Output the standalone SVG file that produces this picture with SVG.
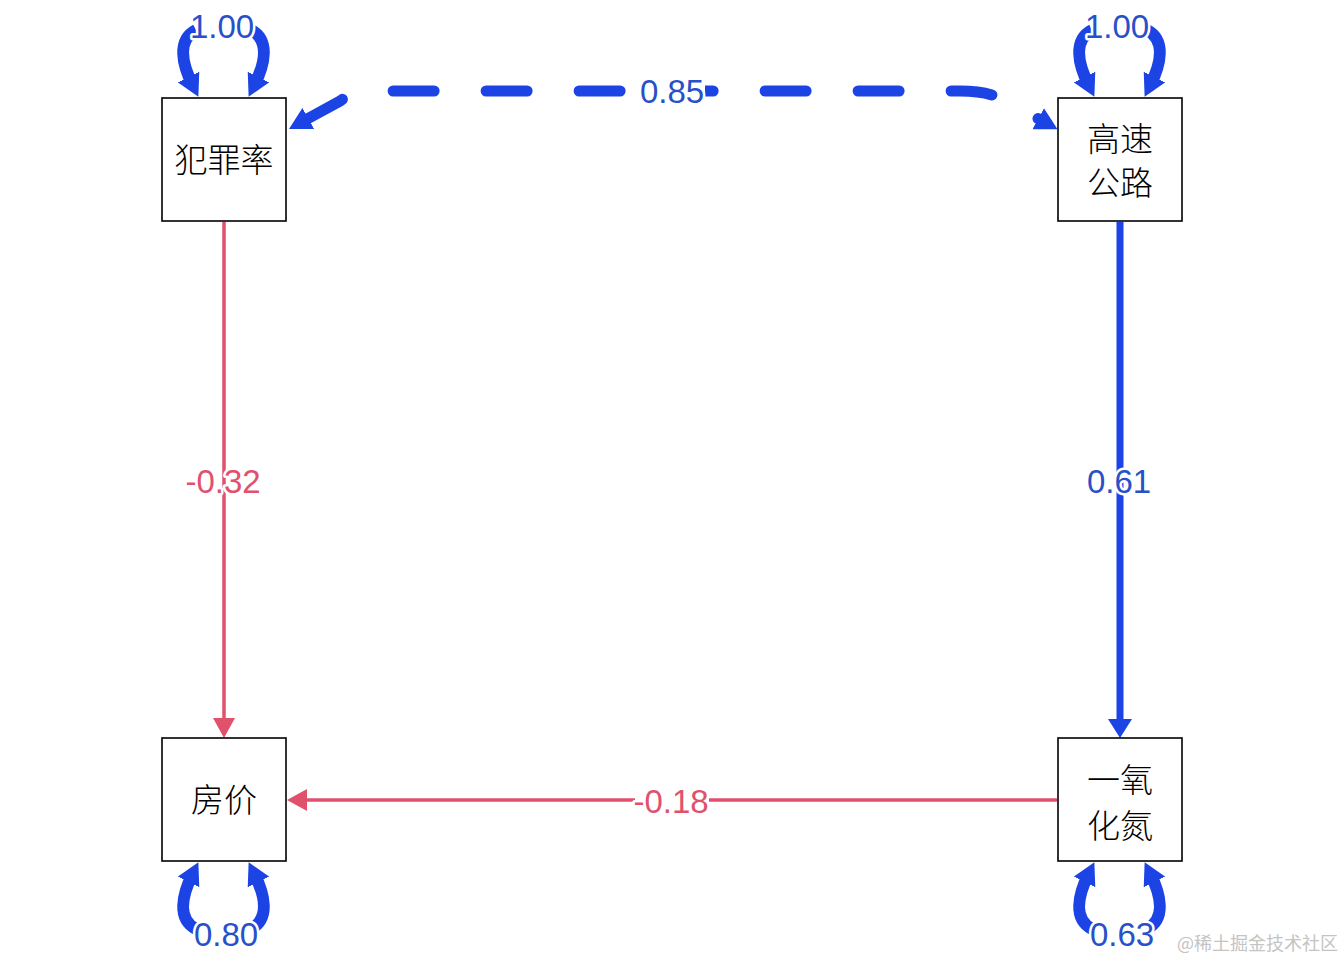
<svg xmlns="http://www.w3.org/2000/svg" width="1344" height="960" viewBox="0 0 1344 960">
<style>
.box{fill:#fff;stroke:#000;stroke-width:1.6}
.cn{font-family:"Noto Sans CJK SC","Noto Sans",sans-serif;font-size:33px;font-weight:300;fill:#000;text-anchor:middle}
.lbl{font-family:"Liberation Sans",Arial,sans-serif;font-size:33px;text-anchor:middle;paint-order:stroke;stroke:#fff;stroke-width:5;stroke-linejoin:round}
.lb{fill:#2850c8}
.lr{fill:#e0516c}
.bg{fill:#fff}
.loop{fill:none;stroke:#1c43e4;stroke-width:12;marker-end:url(#ahBig)}
.blue{fill:none;stroke:#1c43e4;stroke-width:7;marker-end:url(#ahBlue)}
.red{fill:none;stroke:#e0516c;stroke-width:3.5;marker-end:url(#ahRed)}
.dash{fill:none;stroke:#1c43e4;stroke-width:11;stroke-linecap:round;stroke-dasharray:41 52;stroke-dashoffset:84.8}
.wm{font-family:"Noto Sans CJK SC",sans-serif;font-size:18px;fill:#c4c4c4;text-anchor:end}
</style>
<defs>
<marker id="ahBig" markerUnits="userSpaceOnUse" viewBox="0 0 22 24" markerWidth="22" markerHeight="24" refX="10" refY="12" orient="auto-start-reverse"><path d="M0,0 L22,12 L0,24 z" fill="#1c43e4"/></marker>
<marker id="ahBlue" markerUnits="userSpaceOnUse" viewBox="0 0 19 24" markerWidth="19" markerHeight="24" refX="13" refY="12" orient="auto"><path d="M0,0 L19,12 L0,24 z" fill="#1c43e4"/></marker>
<marker id="ahRed" markerUnits="userSpaceOnUse" viewBox="0 0 20 22" markerWidth="20" markerHeight="22" refX="14" refY="11" orient="auto"><path d="M0,0 L20,11 L0,22 z" fill="#e0516c"/></marker>
</defs>
<rect width="1344" height="960" fill="#fff"/>
<g id="connectors">
<path class="red" d="M224 222 L224 732"/>
<path class="blue" d="M1120 222 L1120 732"/>
<path class="red" d="M1057 800 L293 800"/>
<path class="dash" d="M299.5 123.2 L340 101 Q352 92 372 91 L960 91 Q988 91 1004 100 L1047 123.5" marker-start="url(#ahBig)" marker-end="url(#ahBig)"/>
<path class="loop" d="M196 30 C177 40 182 64 193 86"/>
<path class="loop" d="M251 30 C270 40 265 64 254 86"/>
<path class="loop" d="M1092 30 C1073 40 1078 64 1089 86"/>
<path class="loop" d="M1147 30 C1166 40 1161 64 1150 86"/>
<path class="loop" d="M196 929 C177 919 182 895 193 873"/>
<path class="loop" d="M251 929 C270 919 265 895 254 873"/>
<path class="loop" d="M1092 929 C1073 919 1078 895 1089 873"/>
<path class="loop" d="M1147 929 C1166 919 1161 895 1150 873"/>
<rect class="bg" x="635" y="789" width="74" height="24"/>
<rect class="bg" x="639" y="78" width="66" height="26"/>
<text class="lbl lr" x="223" y="493">-0.32</text>
<text class="lbl lb" x="1119" y="493">0.61</text>
<text class="lbl lr" x="671" y="813">-0.18</text>
<text class="lbl lb" x="672" y="103">0.85</text>
<text class="lbl lb" x="222" y="38" stroke-width="7">1.00</text>
<text class="lbl lb" x="1117" y="38" stroke-width="7">1.00</text>
<text class="lbl lb" x="226" y="946" stroke-width="7">0.80</text>
<text class="lbl lb" x="1122" y="946" stroke-width="7">0.63</text>
</g>
<g id="node-crime">
<rect class="box" x="162" y="98" width="124" height="123"/>
<text class="cn" x="224" y="172">犯罪率</text>
</g>
<g id="node-highway">
<rect class="box" x="1058" y="98" width="124" height="123"/>
<text class="cn" x="1120" y="151">高速</text>
<text class="cn" x="1120" y="195">公路</text>
</g>
<g id="node-price">
<rect class="box" x="162" y="738" width="124" height="123"/>
<text class="cn" x="224" y="812">房价</text>
</g>
<g id="node-nox">
<rect class="box" x="1058" y="738" width="124" height="123"/>
<text class="cn" x="1120" y="792">一氧</text>
<text class="cn" x="1120" y="838">化氮</text>
</g>
<text class="wm" x="1338" y="950">@稀土掘金技术社区</text>
</svg>
